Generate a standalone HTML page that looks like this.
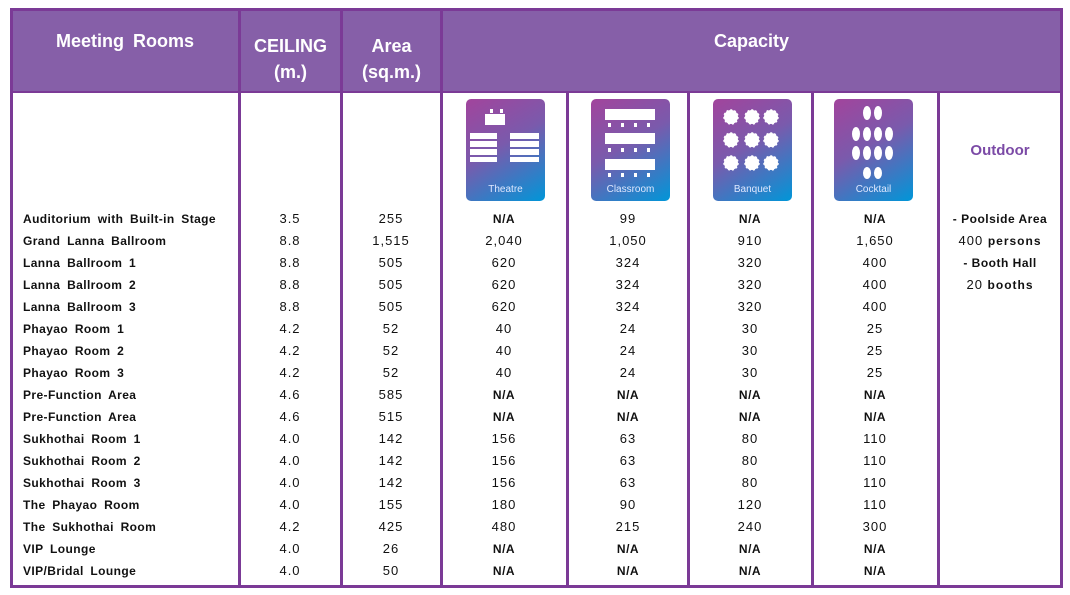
<!DOCTYPE html><html><head><style>
body{margin:0;width:1070px;height:595px;background:#fff;position:relative;font-family:"Liberation Sans",sans-serif;overflow:hidden}
.a{position:absolute}
.h{color:#fff;font-weight:bold;font-size:18px;text-align:center;line-height:26px}
.v{position:absolute;width:3px;top:10px;height:577px;background:#7b3a96}
.v2{position:absolute;width:3px;top:92px;height:495px;background:#7b3a96}
.c{position:absolute;text-align:center;font-size:13px;color:#111;letter-spacing:1px;transform:translateX(-50%);white-space:nowrap;line-height:14px}
.n{font-size:12px;font-weight:bold;letter-spacing:.5px}
.ico{position:absolute;width:79px;height:102px;top:99px;border-radius:5px;background:linear-gradient(150deg,#a2449c 0%,#7a5aac 45%,#0096d8 100%)}
.ico svg{position:absolute;left:0;top:0}
.ico span{position:absolute;left:0;bottom:6px;width:100%;text-align:center;color:#dfe8ff;font-size:10px}
.rm{position:absolute;left:23px;font-size:12px;font-weight:bold;color:#111;letter-spacing:.4px;word-spacing:3px;line-height:14px}
</style></head><body>
<div class="a" style="left:10px;top:10px;width:1052px;height:82px;background:#865fa8"></div>
<div class="a" style="left:10px;top:8px;width:1053px;height:3px;background:#7b3a96"></div>
<div class="a" style="left:10px;top:91px;width:1053px;height:2px;background:#7b3a96"></div>
<div class="a" style="left:10px;top:585px;width:1053px;height:3px;background:#7b3a96"></div>
<div class="v" style="left:10px"></div><div class="v" style="left:238px"></div><div class="v" style="left:340px"></div><div class="v" style="left:440px"></div><div class="v2" style="left:566px"></div><div class="v2" style="left:687px"></div><div class="v2" style="left:811px"></div><div class="v2" style="left:937px"></div><div class="v" style="left:1060px"></div>
<div class="a h" style="left:12px;width:226px;top:28px;word-spacing:4px">Meeting Rooms</div>
<div class="a h" style="left:241px;width:99px;top:33px">CEILING<br>(m.)</div>
<div class="a h" style="left:343px;width:97px;top:33px">Area<br>(sq.m.)</div>
<div class="a h" style="left:443px;width:617px;top:28px">Capacity</div>
<div class="ico" style="left:466px"><svg width="79" height="80"><g fill="#fff"><rect x="24" y="10" width="3" height="4"/><rect x="34" y="10" width="3" height="4"/><rect x="19" y="15" width="20" height="11"/>
<rect x="4" y="34" width="27" height="6"/><rect x="4" y="42" width="27" height="6"/><rect x="4" y="50" width="27" height="6"/><rect x="4" y="58" width="27" height="5"/>
<rect x="44" y="34" width="29" height="6"/><rect x="44" y="42" width="29" height="6"/><rect x="44" y="50" width="29" height="6"/><rect x="44" y="58" width="29" height="5"/></g></svg><span>Theatre</span></div>
<div class="ico" style="left:591px"><svg width="79" height="80"><g fill="#fff"><rect x="14" y="10" width="50" height="11"/><rect x="14" y="34" width="50" height="11"/><rect x="14" y="60" width="50" height="11"/><rect x="17" y="24" width="3" height="4"/><rect x="30" y="24" width="3" height="4"/><rect x="43" y="24" width="3" height="4"/><rect x="56" y="24" width="3" height="4"/><rect x="17" y="49" width="3" height="4"/><rect x="30" y="49" width="3" height="4"/><rect x="43" y="49" width="3" height="4"/><rect x="56" y="49" width="3" height="4"/><rect x="17" y="74" width="3" height="4"/><rect x="30" y="74" width="3" height="4"/><rect x="43" y="74" width="3" height="4"/><rect x="56" y="74" width="3" height="4"/></g></svg><span>Classroom</span></div>
<div class="ico" style="left:713px"><svg width="79" height="80"><g fill="#fff" stroke="#fff" stroke-width="1.5" stroke-dasharray="2 2"><circle cx="18" cy="18" r="7"/><circle cx="39" cy="18" r="7"/><circle cx="58" cy="18" r="7"/><circle cx="18" cy="41" r="7"/><circle cx="39" cy="41" r="7"/><circle cx="58" cy="41" r="7"/><circle cx="18" cy="64" r="7"/><circle cx="39" cy="64" r="7"/><circle cx="58" cy="64" r="7"/></g></svg><span>Banquet</span></div>
<div class="ico" style="left:834px"><svg width="79" height="80"><g fill="#fff"><ellipse cx="33" cy="14" rx="4" ry="7"/><ellipse cx="44" cy="14" rx="4" ry="7"/><ellipse cx="22" cy="35" rx="4" ry="7"/><ellipse cx="33" cy="35" rx="4" ry="7"/><ellipse cx="44" cy="35" rx="4" ry="7"/><ellipse cx="55" cy="35" rx="4" ry="7"/><ellipse cx="22" cy="54" rx="4" ry="7"/><ellipse cx="33" cy="54" rx="4" ry="7"/><ellipse cx="44" cy="54" rx="4" ry="7"/><ellipse cx="55" cy="54" rx="4" ry="7"/><ellipse cx="33" cy="74" rx="4" ry="6"/><ellipse cx="44" cy="74" rx="4" ry="6"/></g></svg><span>Cocktail</span></div>
<div class="c" style="left:1000px;top:144px;color:#7b4aa6;font-weight:bold;font-size:15px;letter-spacing:0">Outdoor</div>
<div class="c n" style="left:1000px;top:212px">- Poolside Area</div>
<div class="c" style="left:1000px;top:234px">400 <b style="font-size:12px">persons</b></div>
<div class="c n" style="left:1000px;top:256px">- Booth Hall</div>
<div class="c" style="left:1000px;top:278px">20 <b style="font-size:12px">booths</b></div>
<div id="rows"></div>
<script>
var d=[["Auditorium with Built-in Stage","3.5","255","N/A","99","N/A","N/A"],["Grand Lanna Ballroom","8.8","1,515","2,040","1,050","910","1,650"],["Lanna Ballroom 1","8.8","505","620","324","320","400"],["Lanna Ballroom 2","8.8","505","620","324","320","400"],["Lanna Ballroom 3","8.8","505","620","324","320","400"],["Phayao Room 1","4.2","52","40","24","30","25"],["Phayao Room 2","4.2","52","40","24","30","25"],["Phayao Room 3","4.2","52","40","24","30","25"],["Pre-Function Area","4.6","585","N/A","N/A","N/A","N/A"],["Pre-Function Area","4.6","515","N/A","N/A","N/A","N/A"],["Sukhothai Room 1","4.0","142","156","63","80","110"],["Sukhothai Room 2","4.0","142","156","63","80","110"],["Sukhothai Room 3","4.0","142","156","63","80","110"],["The Phayao Room","4.0","155","180","90","120","110"],["The Sukhothai Room","4.2","425","480","215","240","300"],["VIP Lounge","4.0","26","N/A","N/A","N/A","N/A"],["VIP/Bridal Lounge","4.0","50","N/A","N/A","N/A","N/A"]];
var cx=[290,391,504,628,750,875],h="";
d.forEach(function(r,i){var y=212+22*i;h+='<div class="rm" style="top:'+y+'px">'+r[0]+'</div>';
for(var j=1;j<7;j++){h+='<div class="c'+(r[j]=="N/A"?' n':'')+'" style="left:'+cx[j-1]+'px;top:'+y+'px">'+r[j]+'</div>';}});
document.getElementById("rows").innerHTML=h;
</script>
</body></html>
